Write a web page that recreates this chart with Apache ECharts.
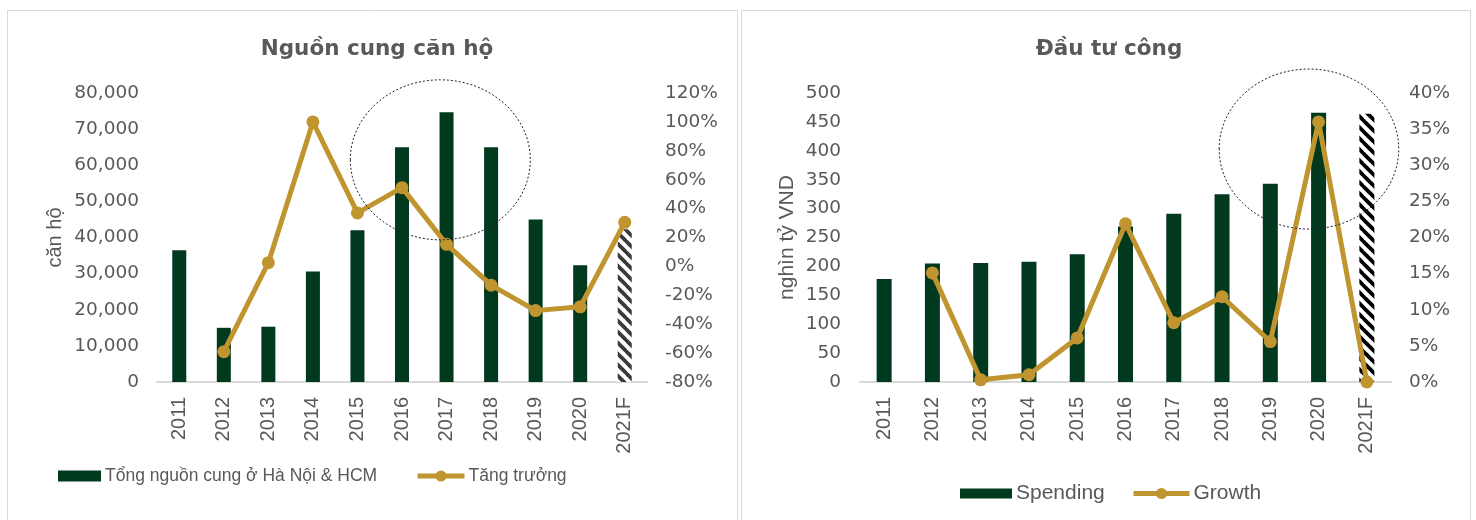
<!DOCTYPE html>
<html>
<head>
<meta charset="utf-8">
<script src="https://cdn.jsdelivr.net/npm/echarts@6/dist/echarts.min.js"></script>
<style>
html,body{margin:0;padding:0;background:#fff;}
#chart{width:1476px;height:520px;}
</style>
</head>
<body>
<div id="chart"></div>
<script>
// ---- data ----
const categories = ['2011','2012','2013','2014','2015','2016','2017','2018','2019','2020','2021F'];
const supplyValues = [36500, 15000, 15300, 30600, 42000, 65000, 74700, 65000, 45000, 32300, 42300];
const supplyGrowth = [null, -59, 2.6, 100, 37, 54.5, 15.3, -13, -30.6, -28, 30.5];
const spendingValues = [178, 205, 206, 208, 221, 269, 291, 325, 343, 466, 464];
const spendingGrowth = [null, 15.1, 0.3, 1.0, 6.1, 21.9, 8.2, 11.8, 5.6, 36.0, 0];
const leftYTicks = {min: 0, max: 80000, interval: 10000};
const leftY2Ticks = {min: -80, max: 120, interval: 20};
const rightYTicks = {min: 0, max: 500, interval: 50};
const rightY2Ticks = {min: 0, max: 40, interval: 5};
const forecastIndex = 10;

const GREEN = '#01391F';
const GOLD = '#C0952F';
const GREY = '#595959';
const TICKFONT = 'DejaVu Sans';
const TEXTFONT = 'Liberation Sans';

function hatch(color) {
  const s = 11;
  const c = document.createElement('canvas');
  c.width = s; c.height = s;
  const g = c.getContext('2d');
  g.fillStyle = '#fff';
  g.fillRect(0, 0, s, s);
  g.strokeStyle = color;
  g.lineWidth = 3.8;
  for (let k = -1; k <= 1; k++) {
    g.beginPath();
    g.moveTo(k * s - 1, -1);
    g.lineTo(k * s + s + 1, s + 1);
    g.stroke();
  }
  return {image: c, repeat: 'repeat'};
}

function barData(values, color) {
  return values.map((v, i) => i === forecastIndex ? {value: v, itemStyle: {color: hatch(color)}} : v);
}

const chart = echarts.init(document.getElementById('chart'), null, {renderer: 'canvas'});

const yLabel = {color: GREY, fontFamily: TICKFONT, fontSize: 18.5, margin: 18};
const xCommon = {
  type: 'category',
  data: categories,
  axisTick: {show: false},
  axisLine: {show: true, lineStyle: {color: '#d9d9d9', width: 2}},
  axisLabel: {rotate: 90, interval: 0, color: GREY, fontFamily: TEXTFONT, fontSize: 20, margin: 15}
};

function legendItem(name, left, top, w, h, size, isBar) {
  return {
    left: left, top: top, itemWidth: w, itemHeight: h, padding: 0,
    textStyle: {color: GREY, fontFamily: TEXTFONT, fontSize: size, padding: [0, 0, 0, -1]},
    lineStyle: {width: 5},
    data: [isBar ? {name: name, icon: 'rect'} : {name: name}]
  };
}

const option = {
  animation: false,
  backgroundColor: '#fff',
  title: [
    {text: 'Nguồn cung căn hộ', left: 372, top: 33, textAlign: 'center',
     textStyle: {color: GREY, fontFamily: TICKFONT, fontWeight: 'bold', fontSize: 21.5}},
    {text: 'Đầu tư công', left: 1104, top: 33, textAlign: 'center',
     textStyle: {color: GREY, fontFamily: TICKFONT, fontWeight: 'bold', fontSize: 21.5}}
  ],
  legend: [
    legendItem('Tổng nguồn cung ở Hà Nội & HCM', 58, 467, 43, 11, 17.5, true),
    legendItem('Tăng trưởng', 415, 467, 47, 14, 17.5, false),
    legendItem('Spending', 960, 483, 52, 10, 21, true),
    legendItem('Growth', 1131, 483, 56, 14, 21, false)
  ],
  grid: [
    {left: 157, right: 1476 - 647, top: 93, bottom: 520 - 382},
    {left: 860, right: 1476 - 1391, top: 93, bottom: 520 - 382}
  ],
  xAxis: [
    Object.assign({gridIndex: 0}, xCommon),
    Object.assign({gridIndex: 1}, xCommon)
  ],
  yAxis: [
    {gridIndex: 0, type: 'value', min: leftYTicks.min, max: leftYTicks.max, interval: leftYTicks.interval,
     splitLine: {show: false}, axisLine: {show: false}, axisTick: {show: false},
     axisLabel: Object.assign({formatter: v => v.toLocaleString('en-US')}, yLabel),
     name: 'căn hộ', nameLocation: 'middle', nameGap: 92, nameRotate: 90,
     nameTextStyle: {color: GREY, fontFamily: TEXTFONT, fontSize: 20}},
    {gridIndex: 0, type: 'value', position: 'right', min: leftY2Ticks.min, max: leftY2Ticks.max, interval: leftY2Ticks.interval,
     splitLine: {show: false}, axisLine: {show: false}, axisTick: {show: false},
     axisLabel: Object.assign({formatter: v => v + '%'}, yLabel)},
    {gridIndex: 1, type: 'value', min: rightYTicks.min, max: rightYTicks.max, interval: rightYTicks.interval,
     splitLine: {show: false}, axisLine: {show: false}, axisTick: {show: false},
     axisLabel: Object.assign({}, yLabel, {margin: 19}),
     name: 'nghìn tỷ VND', nameLocation: 'middle', nameGap: 62, nameRotate: 90,
     nameTextStyle: {color: GREY, fontFamily: TEXTFONT, fontSize: 21}},
    {gridIndex: 1, type: 'value', position: 'right', min: rightY2Ticks.min, max: rightY2Ticks.max, interval: rightY2Ticks.interval,
     splitLine: {show: false}, axisLine: {show: false}, axisTick: {show: false},
     axisLabel: Object.assign({formatter: v => v + '%'}, yLabel)}
  ],
  series: [
    {name: 'Tổng nguồn cung ở Hà Nội & HCM', type: 'bar', xAxisIndex: 0, yAxisIndex: 0,
     barWidth: 14, itemStyle: {color: GREEN}, data: barData(supplyValues, '#3a3a3a')},
    {name: 'Tăng trưởng', type: 'line', xAxisIndex: 0, yAxisIndex: 1,
     symbol: 'circle', symbolSize: 13, connectNulls: false,
     lineStyle: {color: GOLD, width: 5}, itemStyle: {color: GOLD},
     data: supplyGrowth, z: 5},
    {name: 'Spending', type: 'bar', xAxisIndex: 1, yAxisIndex: 2,
     barWidth: 15, itemStyle: {color: GREEN}, data: barData(spendingValues, '#000')},
    {name: 'Growth', type: 'line', xAxisIndex: 1, yAxisIndex: 3,
     symbol: 'circle', symbolSize: 13,
     lineStyle: {color: GOLD, width: 5}, itemStyle: {color: GOLD},
     data: spendingGrowth, z: 5}
  ]
};
chart.setOption(option);

// annotations: panel frames and dotted highlight ellipses positioned from data coordinates
const leftCenter = chart.convertToPixel({gridIndex: 0}, [6, 61500]);
const leftStep = chart.convertToPixel({gridIndex: 0}, [7, 0])[0] - chart.convertToPixel({gridIndex: 0}, [6, 0])[0];
const rightCenter = chart.convertToPixel({gridIndex: 1}, [9, 403]);
const rightStep = chart.convertToPixel({gridIndex: 1}, [10, 0])[0] - chart.convertToPixel({gridIndex: 1}, [9, 0])[0];
chart.setOption({
  graphic: [
    {type: 'rect', shape: {x: 7.5, y: 10.5, width: 730, height: 520}, style: {fill: 'none', stroke: '#d9d9d9', lineWidth: 1}, z: -1, silent: true},
    {type: 'rect', shape: {x: 741.5, y: 10.5, width: 729, height: 520}, style: {fill: 'none', stroke: '#d9d9d9', lineWidth: 1}, z: -1, silent: true},
    {type: 'ellipse', shape: {cx: leftCenter[0] - 0.14 * leftStep, cy: leftCenter[1], rx: 2.02 * leftStep, ry: 80},
     style: {fill: 'none', stroke: '#222', lineWidth: 1, lineDash: [2, 2]}, z: 10, silent: true},
    {type: 'ellipse', shape: {cx: rightCenter[0] - 0.2 * rightStep, cy: rightCenter[1], rx: 1.86 * rightStep, ry: 80},
     style: {fill: 'none', stroke: '#222', lineWidth: 1, lineDash: [2, 2]}, z: 10, silent: true}
  ]
});
</script>
</body>
</html>
